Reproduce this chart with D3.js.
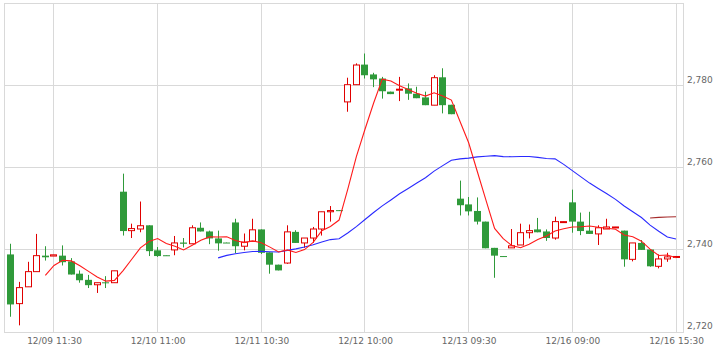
<!DOCTYPE html>
<html><head><meta charset="utf-8">
<script src="https://cdn.jsdelivr.net/npm/d3@7"></script>
<style>html,body{margin:0;padding:0;background:#fff;} svg{display:block;}</style>
</head><body><svg id="chart" width="727" height="358"></svg>
<script>
// ---- data (30-minute bars, 12/09 09:00 .. 12/16 15:30) ----
const tickIndex  = [5, 17, 29, 41, 53, 65, 77];
const tickLabels = ["12/09 11:30","12/10 11:00","12/11 10:30","12/12 10:00","12/13 09:30","12/16 09:00","12/16 15:30"];
const yTicks = [2720, 2740, 2760, 2780];

const openP  = [2738.8,2726.8,2730.9,2734.6,2738.5,2738.4,2738.5,2737.1,2734.1,2732.6,2731.4,2732.0,2731.9,2754.1,2744.6,2745.0,2745.9,2739.8,2738.6,2739.9,2741.7,2741.4,2745.3,2744.4,2742.7,2741.7,2746.6,2740.8,2742.0,2744.9,2739.3,2736.3,2736.7,2744.3,2741.6,2742.8,2745.0,2749.2,2749.6,2776.0,2780.2,2785.1,2782.7,2781.7,2778.5,2778.9,2779.3,2778.0,2777.1,2775.2,2782.0,2775.3,2752.4,2751.0,2749.4,2746.8,2740.4,2738.4,2740.4,2741.1,2744.1,2744.9,2744.4,2742.8,2746.7,2751.5,2746.8,2744.6,2743.8,2745.0,2745.4,2744.6,2737.6,2741.6,2740.0,2735.9,2737.7,2738.1];
const highP  = [2741.4,2732.1,2737.0,2743.8,2740.8,2738.7,2741.0,2737.9,2734.9,2733.8,2731.9,2733.5,2734.8,2758.5,2746.3,2751.7,2745.9,2740.6,2738.6,2743.3,2742.8,2745.9,2746.6,2744.6,2744.6,2741.7,2747.5,2743.9,2747.5,2744.9,2739.3,2736.3,2745.9,2744.7,2742.8,2745.5,2749.2,2750.6,2749.6,2781.9,2785.4,2787.8,2783.1,2782.1,2778.5,2782.1,2780.5,2779.7,2778.5,2782.5,2784.2,2775.3,2756.8,2752.8,2752.7,2746.8,2740.4,2738.4,2745.0,2746.3,2746.1,2747.7,2744.9,2748.0,2746.8,2754.6,2749.0,2749.2,2745.9,2747.5,2745.5,2744.6,2741.6,2742.3,2740.0,2738.8,2739.2,2738.3];
const lowP   = [2723.6,2721.5,2730.9,2734.6,2737.3,2738.4,2736.1,2733.9,2731.9,2730.6,2729.4,2730.6,2731.9,2743.4,2742.8,2744.2,2738.4,2738.2,2738.5,2738.6,2740.5,2741.4,2744.4,2741.3,2739.7,2741.6,2739.1,2739.8,2742.0,2738.9,2734.1,2734.9,2736.5,2741.6,2740.4,2741.6,2743.4,2746.8,2749.4,2773.6,2780.2,2781.7,2779.6,2776.8,2777.9,2776.2,2776.5,2776.9,2775.2,2775.2,2773.2,2773.0,2748.3,2748.3,2746.1,2740.3,2733.1,2738.3,2740.4,2741.1,2742.7,2744.2,2742.1,2742.4,2746.7,2744.1,2743.5,2743.8,2741.1,2745.0,2745.4,2735.8,2737.1,2739.9,2735.8,2735.4,2737.0,2738.1];
const closeP = [2726.6,2730.7,2734.6,2738.5,2738.1,2738.7,2736.9,2733.9,2732.5,2731.3,2731.9,2731.8,2734.8,2744.5,2745.1,2745.8,2739.6,2738.4,2738.5,2741.6,2741.4,2745.3,2744.4,2742.7,2741.5,2741.6,2740.8,2741.8,2744.8,2739.2,2736.3,2734.9,2744.3,2741.6,2742.8,2745.0,2749.2,2749.5,2749.4,2780.2,2785.0,2782.5,2781.5,2778.6,2777.9,2779.1,2778.0,2776.9,2775.2,2781.9,2775.2,2773.0,2750.8,2749.3,2746.8,2740.3,2738.5,2738.3,2740.9,2744.1,2744.6,2744.2,2742.8,2746.8,2746.8,2746.8,2744.5,2743.8,2745.3,2745.5,2745.5,2737.6,2741.6,2739.9,2735.9,2737.7,2738.2,2738.3];

const ma5Start = 4;
const ma5 = [2733.70,2736.12,2737.36,2737.22,2736.02,2734.66,2733.30,2732.28,2732.46,2734.86,2737.62,2740.40,2741.96,2742.68,2741.48,2740.78,2739.90,2741.04,2742.24,2743.08,2743.06,2743.10,2742.20,2741.68,2742.10,2741.64,2740.58,2739.40,2739.90,2739.26,2739.98,2741.72,2744.58,2745.62,2747.18,2754.66,2762.66,2769.32,2775.72,2781.56,2781.10,2779.92,2779.02,2778.10,2777.42,2778.22,2777.44,2776.44,2771.22,2766.04,2759.02,2752.04,2745.14,2742.64,2740.96,2740.42,2741.28,2742.42,2743.32,2744.50,2745.04,2745.48,2745.54,2745.74,2745.44,2745.18,2744.92,2743.54,2743.10,2742.02,2740.10,2738.54,2738.66,2738.00];
const ma25Start = 24;
const ma25 = [2737.96,2738.56,2738.97,2739.26,2739.51,2739.55,2739.46,2739.38,2739.79,2740.16,2740.62,2741.14,2741.84,2742.42,2742.62,2744.02,2745.59,2747.31,2749.03,2750.64,2752.09,2753.60,2754.90,2756.20,2757.50,2759.12,2760.46,2761.75,2762.11,2762.29,2762.60,2762.76,2762.90,2762.66,2762.63,2762.68,2762.67,2762.47,2762.20,2762.10,2760.76,2759.23,2757.71,2756.20,2754.87,2753.58,2752.23,2750.62,2749.20,2747.79,2745.95,2744.45,2743.06,2742.56];
const ma75Start = 74;
const ma75 = [2747.68,2747.83,2747.93,2747.98];

// ---- drawing ----
const svg = d3.select("#chart");
const L = 4.5, R = 683.5, T = 3.5, B = 332.5;
const x = d3.scaleLinear().domain([0, 77]).range([10.8, 676]);
const y = d3.scaleLinear().domain([2720, 2800]).range([331.5, 3.5]);
const UP = "#e00000", DOWN = "#2f9a3a", GRID = "#d9d9d9";
const px = v => Math.round(v - 0.5) + 0.5;

// grid
const grid = svg.append("g");
grid.selectAll(".hg").data(yTicks.filter(v => v > 2720)).join("line")
  .attr("x1", L).attr("x2", R).attr("y1", d => px(y(d))).attr("y2", d => px(y(d)))
  .attr("stroke", GRID).attr("stroke-width", 1);
grid.selectAll(".vg").data(tickIndex).join("line")
  .attr("x1", d => px(x(d))).attr("x2", d => px(x(d))).attr("y1", T).attr("y2", B)
  .attr("stroke", GRID).attr("stroke-width", 1);
grid.append("rect").attr("x", L).attr("y", T).attr("width", R - L).attr("height", B - T)
  .attr("fill", "none").attr("stroke", GRID).attr("stroke-width", 1);

// candles
const data = openP.map((o, i) => ({ i, o, h: highP[i], l: lowP[i], c: closeP[i] }));
const cg = svg.append("g");
const candle = cg.selectAll("g").data(data).join("g");
candle.append("line")
  .attr("x1", d => px(x(d.i))).attr("x2", d => px(x(d.i)))
  .attr("y1", d => y(d.h)).attr("y2", d => y(d.l))
  .attr("stroke", d => d.c > d.o ? UP : DOWN).attr("stroke-width", 1);
candle.append("rect")
  .attr("x", d => d.c > d.o ? px(x(d.i)) - 3 : px(x(d.i)) - 3.5)
  .attr("width", d => d.c > d.o ? 6 : 7)
  .attr("y", d => y(Math.max(d.o, d.c)))
  .attr("height", d => Math.max(1, Math.abs(y(d.o) - y(d.c))))
  .attr("fill", d => d.c > d.o ? "#fff" : DOWN)
  .attr("stroke", d => d.c > d.o ? UP : "none")
  .attr("stroke-width", 1);

// moving averages
const line = d3.line().x(d => x(d.i)).y(d => y(d.v));
const toPts = (arr, s) => arr.map((v, k) => ({ i: s + k, v }));
svg.append("path").datum(toPts(ma25, ma25Start)).attr("d", line)
  .attr("fill", "none").attr("stroke", "#2a2aff").attr("stroke-width", 1.1);
svg.append("path").datum(toPts(ma75, ma75Start)).attr("d", line)
  .attr("fill", "none").attr("stroke", "#a52a2a").attr("stroke-width", 1.1);
svg.append("path").datum(toPts(ma5, ma5Start)).attr("d", line)
  .attr("fill", "none").attr("stroke", "#ff1a1a").attr("stroke-width", 1.1);

// axes
const font = "DejaVu Sans, sans-serif";
const xa = svg.append("g").attr("transform", "translate(0,332)")
  .call(d3.axisBottom(x).tickValues(tickIndex).tickFormat((d, i) => tickLabels[i]).tickSize(0).tickPadding(6));
xa.select(".domain").remove();
xa.selectAll("text").attr("font-family", font).attr("font-size", "9px").attr("fill", "#666");

const ya = svg.append("g").attr("transform", "translate(683,0)")
  .call(d3.axisRight(y).tickValues(yTicks).tickFormat(d3.format(",")).tickSize(0).tickPadding(4));
ya.select(".domain").remove();
ya.selectAll("text").attr("font-family", font).attr("font-size", "9px").attr("fill", "#666")
  .attr("dy", "-3px");
</script></body></html>
